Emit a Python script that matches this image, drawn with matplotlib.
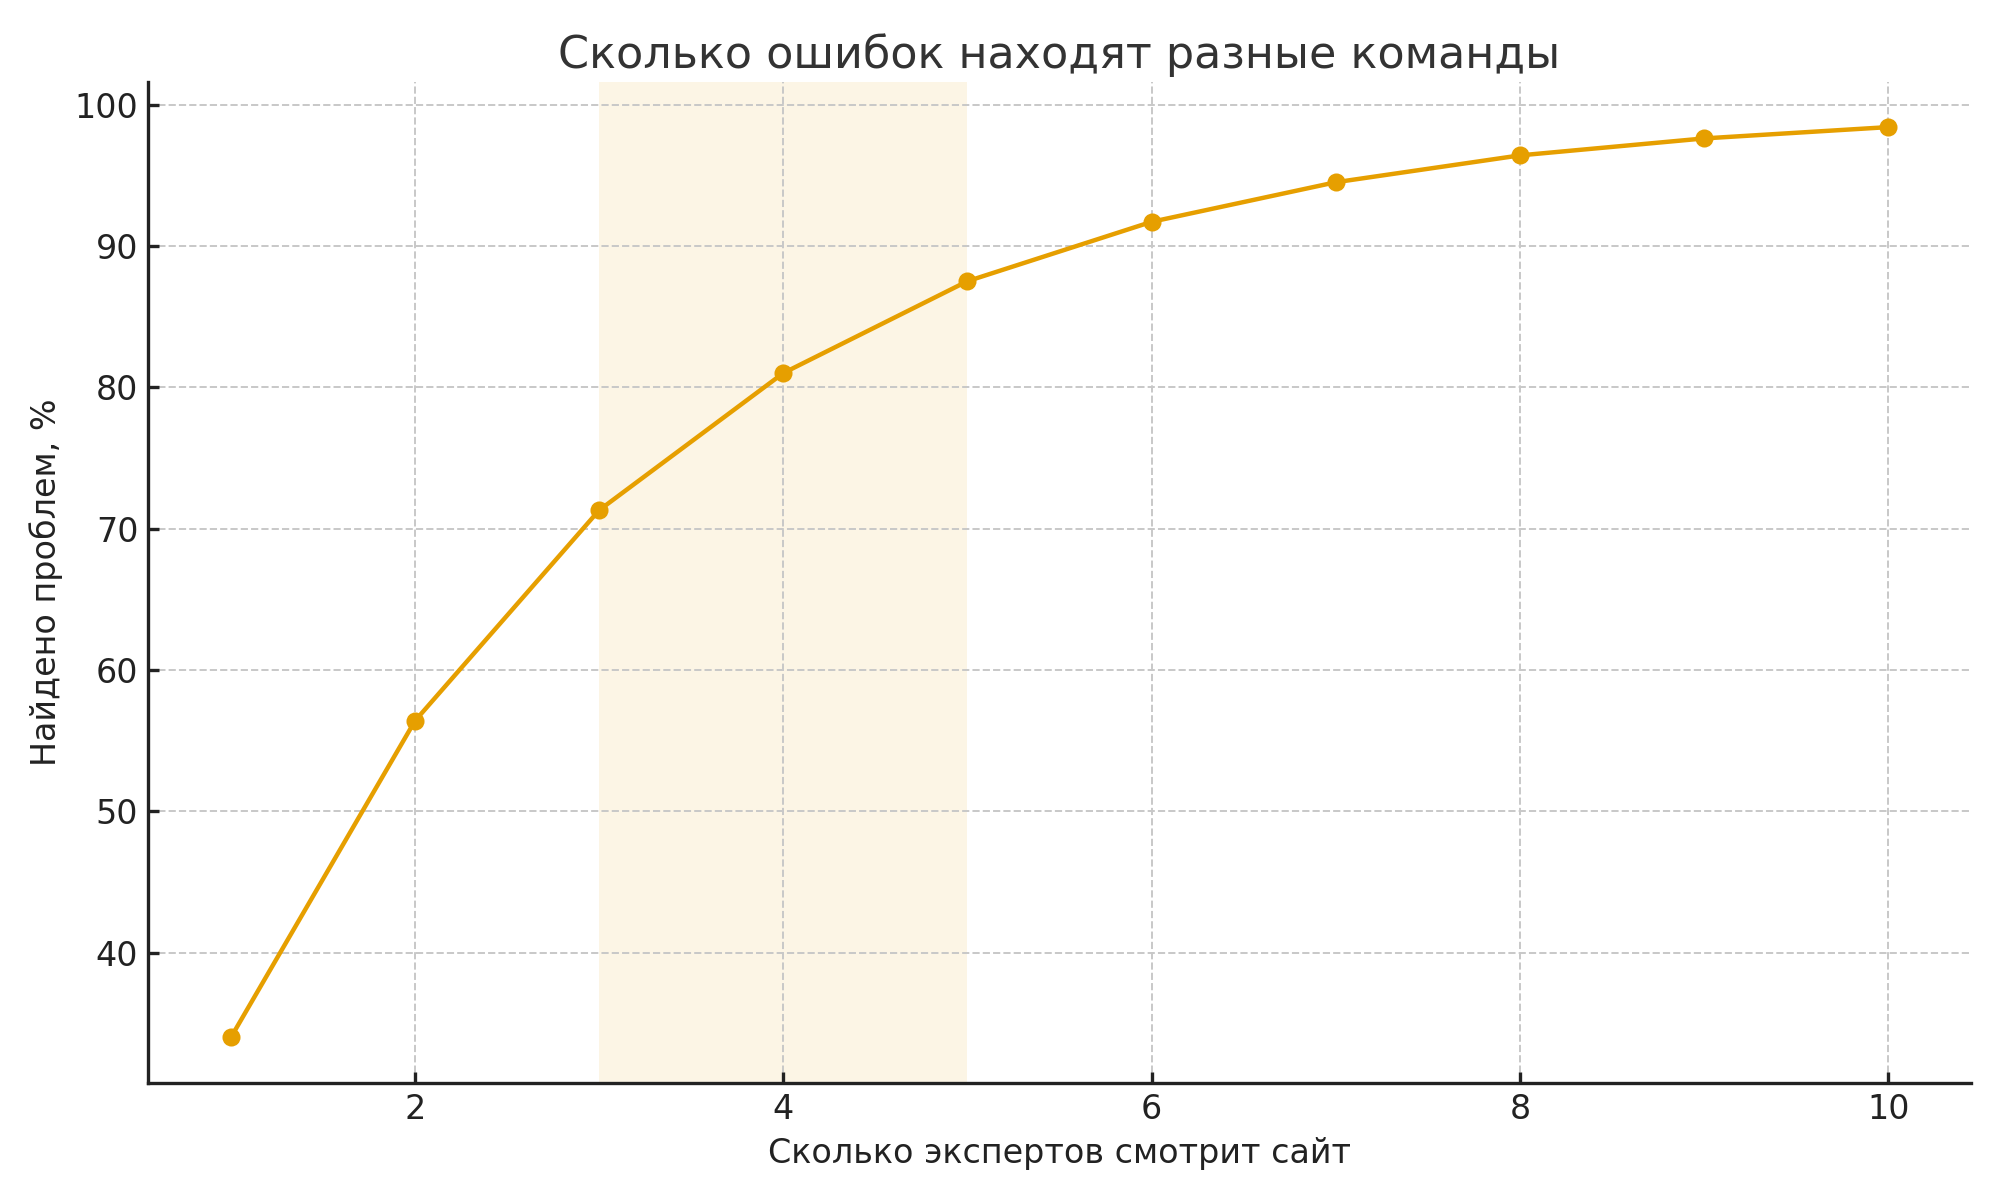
import matplotlib
matplotlib.use("Agg")
import matplotlib.pyplot as plt

experts = [1, 2, 3, 4, 5, 6, 7, 8, 9, 10]
found_pct = [34.0, 56.4, 71.3, 81.0, 87.5, 91.7, 94.5, 96.4, 97.6, 98.4]
span_range = [3, 5]

title = "Сколько ошибок находят разные команды"
xlabel = "Сколько экспертов смотрит сайт"
ylabel = "Найдено проблем, %"

plt.rcParams['font.family'] = ['DejaVu Sans']
fig, ax = plt.subplots(figsize=(10, 6), dpi=200)
fig.subplots_adjust(left=0.074, right=0.9855, top=0.932, bottom=0.0975)

ax.axvspan(span_range[0], span_range[1], color='#E69F00', alpha=0.1, lw=0, zorder=0)
ax.plot(experts, found_pct, color='#E69F00', lw=1.6, marker='o', ms=5.5, zorder=3)

ax.grid(True, ls='--', color='#c8c8c8', lw=0.7)
ax.set_axisbelow(True)
for s in ['top', 'right']:
    ax.spines[s].set_visible(False)
for s in ['left', 'bottom']:
    ax.spines[s].set_color('#222222')
    ax.spines[s].set_linewidth(1.2)
ax.tick_params(direction='in', length=4, width=1.2, colors='#222222', labelsize=12)
ax.set_yticks([40, 50, 60, 70, 80, 90, 100])
ax.set_xticks([2, 4, 6, 8, 10])

ax.set_title(title, fontsize=16, color='#333333', pad=5)
ax.set_xlabel(xlabel, fontsize=12, color='#222222', labelpad=4)
ax.set_ylabel(ylabel, fontsize=12, color='#222222', labelpad=4)

fig.savefig('out.png', dpi=200)
